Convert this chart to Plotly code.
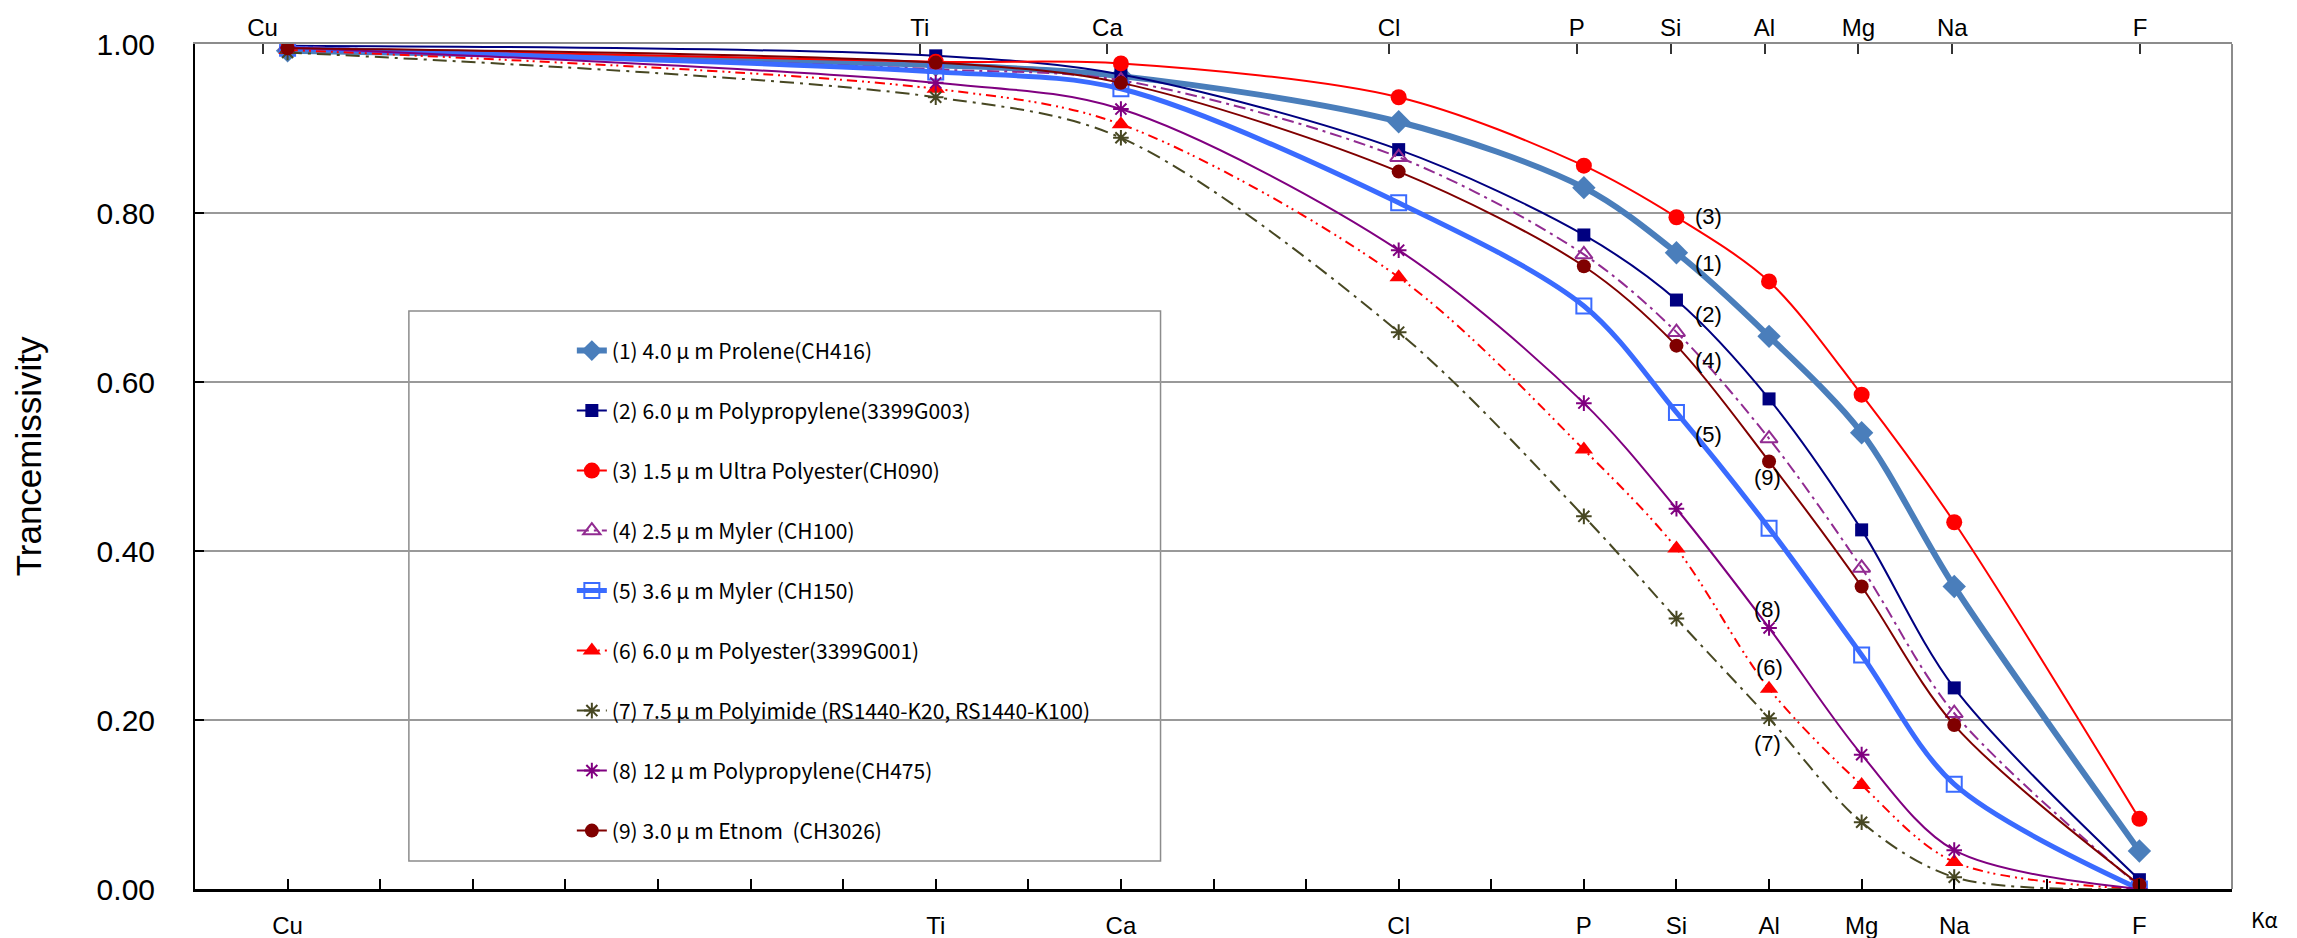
import plotly.graph_objects as go

# Kα lines, ordered from heavy to light element; x position = atomic number
elements = ["Cu", "Ti", "Ca", "Cl", "P", "Si", "Al", "Mg", "Na", "F"]
atomic_number = [29, 22, 20, 17, 15, 14, 13, 12, 11, 9]

# Transmissivity of each window film
prolene_4_0 = [0.992, 0.975, 0.962, 0.908, 0.830, 0.753, 0.654, 0.540, 0.358, 0.045]
polypropylene_6_0 = [0.998, 0.986, 0.964, 0.875, 0.774, 0.697, 0.580, 0.425, 0.238, 0.011]
ultra_polyester_1_5 = [0.996, 0.979, 0.977, 0.937, 0.856, 0.795, 0.719, 0.585, 0.434, 0.083]
myler_2_5 = [0.997, 0.970, 0.957, 0.866, 0.751, 0.659, 0.533, 0.380, 0.208, 0.003]
myler_3_6 = [0.995, 0.967, 0.947, 0.812, 0.690, 0.564, 0.427, 0.277, 0.124, 0.000]
polyester_6_0 = [0.993, 0.947, 0.905, 0.724, 0.520, 0.403, 0.237, 0.123, 0.032, 0.000]
polyimide_7_5 = [0.990, 0.937, 0.889, 0.659, 0.441, 0.320, 0.202, 0.079, 0.014, 0.000]
polypropylene_12 = [0.996, 0.954, 0.923, 0.756, 0.575, 0.450, 0.309, 0.159, 0.046, 0.000]
etnom_3_0 = [0.995, 0.978, 0.954, 0.849, 0.737, 0.643, 0.506, 0.358, 0.194, 0.005]

series_names = [
    "(1) 4.0 μ m Prolene(CH416)",
    "(2) 6.0 μ m Polypropylene(3399G003)",
    "(3) 1.5 μ m Ultra Polyester(CH090)",
    "(4) 2.5 μ m Myler (CH100)",
    "(5) 3.6 μ m Myler (CH150)",
    "(6) 6.0 μ m Polyester(3399G001)",
    "(7) 7.5 μ m Polyimide (RS1440-K20, RS1440-K100)",
    "(8) 12 μ m Polypropylene(CH475)",
    "(9) 3.0 μ m Etnom  (CH3026)",
]
series_values = [prolene_4_0, polypropylene_6_0, ultra_polyester_1_5, myler_2_5,
                 myler_3_6, polyester_6_0, polyimide_7_5, polypropylene_12, etnom_3_0]

# Curve tags placed next to the lines
tag_text = ["(3)", "(1)", "(2)", "(4)", "(5)", "(9)", "(8)", "(6)", "(7)"]
tag_x = [13.65, 13.65, 13.65, 13.65, 13.65, 13.02, 13.02, 13.0, 13.02]
tag_y = [0.796, 0.740, 0.680, 0.626, 0.538, 0.487, 0.331, 0.262, 0.172]

styles = [
    dict(color="#4A7EBB", width=6, dash="solid", symbol="diamond", size=18, lw=0),
    dict(color="#000080", width=2, dash="solid", symbol="square", size=13, lw=0),
    dict(color="#FF0000", width=2, dash="solid", symbol="circle", size=16, lw=0),
    dict(color="#912B91", width=2, dash="12px,5px,3px,5px", symbol="triangle-up-open", size=15, lw=2),
    dict(color="#3A6BFF", width=5, dash="solid", symbol="square-open", size=15, lw=2),
    dict(color="#FF0000", width=2, dash="10px,5px,2px,4px,2px,5px", symbol="triangle-up", size=16, lw=0),
    dict(color="#474722", width=2, dash="14px,6px,3px,6px", symbol="asterisk-open", size=13, lw=2),
    dict(color="#800080", width=2, dash="solid", symbol="asterisk-open", size=13, lw=2),
    dict(color="#800000", width=2, dash="solid", symbol="circle", size=14, lw=0),
]

fig = go.Figure()
for i, (name, vals, st) in enumerate(zip(series_names, series_values, styles)):
    fig.add_trace(go.Scatter(
        x=atomic_number, y=vals, name=name, mode="lines+markers",
        legendgroup=str(i),
        line=dict(color=st["color"], width=st["width"], dash=st["dash"],
                  shape="spline", smoothing=0.9),
        marker=dict(symbol=st["symbol"], size=st["size"], color=st["color"],
                    line=dict(color=st["color"], width=st["lw"])),
    ))

# Empty trace that anchors the element scale along the top edge
fig.add_trace(go.Scatter(x=atomic_number, y=[None] * len(atomic_number), xaxis="x2",
                         mode="markers", showlegend=False, hoverinfo="skip"))

for t, x, y in zip(tag_text, tag_x, tag_y):
    fig.add_annotation(x=x, y=y, xref="x", yref="y", text=t, showarrow=False,
                       font=dict(family="Liberation Sans, Arial", size=22, color="#000000"))

label_of = dict(zip(atomic_number, elements))
bottom_ticks = list(range(9, 30))

fig.update_layout(
    width=2297, height=938,
    margin=dict(l=195, r=65, t=44, b=49, autoexpand=False),
    paper_bgcolor="white", plot_bgcolor="white",
    font=dict(family="Liberation Sans, Arial", color="#000000"),
    xaxis=dict(
        range=[30, 8], tickmode="array", tickvals=bottom_ticks,
        ticktext=[label_of.get(z, "") for z in bottom_ticks],
        ticks="inside", ticklen=10, tickwidth=2, tickcolor="#000000",
        showline=True, linecolor="#000000", linewidth=2.5,
        showgrid=False, zeroline=False, automargin=False,
        tickfont=dict(size=24), ticklabelstandoff=13,
    ),
    xaxis2=dict(
        overlaying="x", side="top", range=[29.72, 8.02],
        tickmode="array", tickvals=atomic_number, ticktext=elements,
        ticks="inside", ticklen=10, tickwidth=2, tickcolor="#333333",
        showline=True, linecolor="#8C8C8C", linewidth=2,
        showgrid=False, zeroline=False, automargin=False,
        tickfont=dict(size=24), ticklabelstandoff=-4,
    ),
    yaxis=dict(
        range=[0, 1], tickmode="array", tickvals=[0, 0.2, 0.4, 0.6, 0.8, 1.0],
        tickformat=".2f", ticks="inside", ticklen=9, tickwidth=2, tickcolor="#000000",
        showline=True, linecolor="#000000", linewidth=2, automargin=False,
        showgrid=True, gridcolor="#999999", gridwidth=2, zeroline=False,
        tickfont=dict(size=30), ticklabelstandoff=32,
    ),
    legend=dict(
        x=0.185, y=0.661, xanchor="left", yanchor="top",
        bgcolor="rgba(0,0,0,0)", borderwidth=0,
        font=dict(family="Noto Sans CJK JP", size=21, color="#000000"),
        tracegroupgap=29.7, itemwidth=30,
    ),
    showlegend=True,
)

# Legend frame
fig.add_shape(type="rect", xref="paper", yref="paper",
              x0=0.105, x1=0.474, y0=0.033, y1=0.684,
              line=dict(color="#8C8C8C", width=1.5), fillcolor="white", layer="below")
# Right border of the plot area
fig.add_shape(type="line", xref="paper", yref="paper", x0=1, x1=1, y0=0, y1=1,
              line=dict(color="#8C8C8C", width=2))

fig.add_annotation(x=-0.082, y=0.512, xref="paper", yref="paper", text="Trancemissivity",
                   textangle=-90, showarrow=False, xanchor="center", yanchor="middle",
                   font=dict(family="Liberation Sans, Arial", size=35, color="#000000"))
fig.add_annotation(x=1.0085, y=-0.035, xref="paper", yref="paper", text="Kα",
                   showarrow=False, xanchor="left", yanchor="middle",
                   font=dict(family="Noto Sans CJK JP", size=21, color="#000000"))

fig.write_html("out.html")
